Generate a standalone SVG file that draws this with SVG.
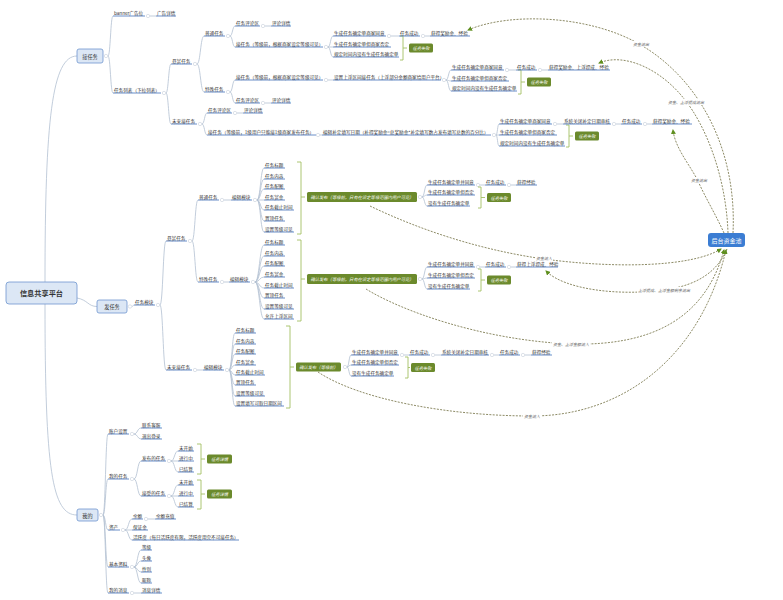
<svg xmlns="http://www.w3.org/2000/svg" width="783" height="600" viewBox="0 0 783 600">
<defs>
<style>
.t{font-family:"Noto Sans CJK SC","Noto Sans",sans-serif;font-size:4.6px;fill:#333;dominant-baseline:central}
.u{stroke:#5a82c2;stroke-width:0.9}
.c{fill:none;stroke:#b3c0d2;stroke-width:0.8}
.o{fill:#fff;stroke:#bcc6d4;stroke-width:0.5}
.gb{fill:#6b8a2c}
.gt{font-family:"Noto Sans CJK SC","Noto Sans",sans-serif;font-size:4.3px;fill:#fff;font-style:italic;text-anchor:middle;dominant-baseline:central}
.br{fill:none;stroke:#a3bf63;stroke-width:0.9}
.d{fill:none;stroke:#6e6c3e;stroke-width:0.8;stroke-dasharray:2 1.3;marker-end:url(#ah)}
.dl{font-family:"Noto Sans CJK SC","Noto Sans",sans-serif;font-size:4px;fill:#666;font-style:italic;text-anchor:middle;dominant-baseline:central}
.lb{fill:#fff}
.bx{fill:#dce7f5;stroke:#6e96cf;stroke-width:0.8}
.bt{font-family:"Noto Sans CJK SC","Noto Sans",sans-serif;font-size:5.2px;fill:#333;text-anchor:middle;dominant-baseline:central}
</style>
<marker id="ah" viewBox="0 0 10 10" refX="8" refY="5" markerWidth="5" markerHeight="5" orient="auto" markerUnits="userSpaceOnUse"><path d="M0 0L10 5L0 10z" fill="#5f8f1f"/></marker>
</defs>
<rect width="783" height="600" fill="#fff"/>

<g id="connectors">
<path class="c" d="M45 282C45 120 52 56 77 56"/>
<path class="c" d="M45 304C45 470 52 515 77 515"/>
<path class="c" d="M77 298C88 300 88 306.5 97 306.5"/>
<!-- 接任务 -->
<path class="c" d="M108 56C110.5 56 110.5 16 113 16"/>
<path class="c" d="M108 56C110.5 56 110.5 93 113 93"/>
<path class="c" d="M150 16H156"/>
<path class="c" d="M166 93C168.5 93 168.5 64 171 64"/>
<path class="c" d="M166 93C168.5 93 168.5 124 171 124"/>
<path class="c" d="M197 64C200.5 64 200.5 36 204 36"/>
<path class="c" d="M197 64C200.5 64 200.5 92 204 92"/>
<path class="c" d="M230 36C232.5 36 232.5 26 235 26"/>
<path class="c" d="M230 36C232.5 36 232.5 47 235 47"/>
<path class="c" d="M265 26H271"/>
<path class="c" d="M328 47C330.5 47 330.5 36 333 36"/>
<path class="c" d="M328 47H333"/>
<path class="c" d="M328 47C330.5 47 330.5 57 333 57"/>
<path class="c" d="M391 36H399"/>
<path class="c" d="M425 36H430"/>
<path class="c" d="M230 92C232.5 92 232.5 80 235 80"/>
<path class="c" d="M230 92C232.5 92 232.5 103 235 103"/>
<path class="c" d="M265 103H271"/>
<path class="c" d="M328 80H333"/>
<path class="c" d="M446 80C448.5 80 448.5 70 451 70"/>
<path class="c" d="M446 80C448.5 80 448.5 81 451 81"/>
<path class="c" d="M446 80C448.5 80 448.5 91 451 91"/>
<path class="c" d="M509 70H516"/>
<path class="c" d="M542 70H548"/>
<path class="c" d="M202 124C204.5 124 204.5 113 207 113"/>
<path class="c" d="M202 124C204.5 124 204.5 135 207 135"/>
<path class="c" d="M237 113H243"/>
<path class="c" d="M320 135H322"/>
<path class="c" d="M496 135C497.5 135 497.5 124 499 124"/>
<path class="c" d="M496 135H499"/>
<path class="c" d="M496 135C497.5 135 497.5 146 499 146"/>
<path class="c" d="M557 124H563"/>
<path class="c" d="M616 124H621"/>
<path class="c" d="M647 124H652"/>
<!-- 发任务 -->
<path class="c" d="M132 306.5C133 306.5 133 305 134 305"/>
<path class="c" d="M160 305C163 305 163 241 166 241"/>
<path class="c" d="M160 305C163 305 163 370 166 370"/>
<path class="c" d="M192 241C195 241 195 200 198 200"/>
<path class="c" d="M192 241C195 241 195 282 198 282"/>
<path class="c" d="M224 200H231"/>
<path class="c" d="M257 200C260.5 200 260.5 168 264 168"/>
<path class="c" d="M257 200C260.5 200 260.5 179 264 179"/>
<path class="c" d="M257 200C260.5 200 260.5 189 264 189"/>
<path class="c" d="M257 200H264"/>
<path class="c" d="M257 200C260.5 200 260.5 210 264 210"/>
<path class="c" d="M257 200C260.5 200 260.5 221 264 221"/>
<path class="c" d="M257 200C260.5 200 260.5 232 264 232"/>
<path class="c" d="M422 197C424.5 197 424.5 185 427 185"/>
<path class="c" d="M422 197C424.5 197 424.5 195 427 195"/>
<path class="c" d="M422 197C424.5 197 424.5 206 427 206"/>
<path class="c" d="M480 185H485"/>
<path class="c" d="M511 185H516"/>
<path class="c" d="M224 282H229"/>
<path class="c" d="M255 282C259.5 282 259.5 245 264 245"/>
<path class="c" d="M255 282C259.5 282 259.5 256 264 256"/>
<path class="c" d="M255 282C259.5 282 259.5 266 264 266"/>
<path class="c" d="M255 282C259.5 282 259.5 277 264 277"/>
<path class="c" d="M255 282C259.5 282 259.5 288 264 288"/>
<path class="c" d="M255 282C259.5 282 259.5 298 264 298"/>
<path class="c" d="M255 282C259.5 282 259.5 309 264 309"/>
<path class="c" d="M255 282C259.5 282 259.5 319 264 319"/>
<path class="c" d="M422 279C424.5 279 424.5 267 427 267"/>
<path class="c" d="M422 279C424.5 279 424.5 278 427 278"/>
<path class="c" d="M422 279C424.5 279 424.5 289 427 289"/>
<path class="c" d="M480 267H485"/>
<path class="c" d="M511 267H516"/>
<path class="c" d="M197 370H203"/>
<path class="c" d="M229 370C232 370 232 333 235 333"/>
<path class="c" d="M229 370C232 370 232 344 235 344"/>
<path class="c" d="M229 370C232 370 232 354 235 354"/>
<path class="c" d="M229 370C232 370 232 365 235 365"/>
<path class="c" d="M229 370C232 370 232 375 235 375"/>
<path class="c" d="M229 370C232 370 232 385 235 385"/>
<path class="c" d="M229 370C232 370 232 396 235 396"/>
<path class="c" d="M229 370C232 370 232 406 235 406"/>
<path class="c" d="M347 367C349 367 349 355 351 355"/>
<path class="c" d="M347 367C349 367 349 365 351 365"/>
<path class="c" d="M347 367C349 367 349 376 351 376"/>
<path class="c" d="M404 355H409"/>
<path class="c" d="M435 355H441"/>
<path class="c" d="M494 355H499"/>
<path class="c" d="M525 355H531"/>
<!-- 我的 -->
<path class="c" d="M103 515C105.5 515 105.5 434 108 434"/>
<path class="c" d="M103 515C105.5 515 105.5 479 108 479"/>
<path class="c" d="M103 515C105.5 515 105.5 530 108 530"/>
<path class="c" d="M103 515C105.5 515 105.5 567 108 567"/>
<path class="c" d="M103 515C105.5 515 105.5 593 108 593"/>
<path class="c" d="M134 434C137.5 434 137.5 428 141 428"/>
<path class="c" d="M134 434C137.5 434 137.5 439 141 439"/>
<path class="c" d="M134 479C137.5 479 137.5 461 141 461"/>
<path class="c" d="M134 479C137.5 479 137.5 496 141 496"/>
<path class="c" d="M171 461C174.5 461 174.5 451 178 451"/>
<path class="c" d="M171 461H178"/>
<path class="c" d="M171 461C174.5 461 174.5 472 178 472"/>
<path class="c" d="M171 496C174.5 496 174.5 485 178 485"/>
<path class="c" d="M171 496H178"/>
<path class="c" d="M171 496C174.5 496 174.5 507 178 507"/>
<path class="c" d="M125 530C128.5 530 128.5 519 132 519"/>
<path class="c" d="M125 530H132"/>
<path class="c" d="M125 530C128.5 530 128.5 540 132 540"/>
<path class="c" d="M148 519H155"/>
<path class="c" d="M134 567C137.5 567 137.5 550 141 550"/>
<path class="c" d="M134 567C137.5 567 137.5 561 141 561"/>
<path class="c" d="M134 567C137.5 567 137.5 572 141 572"/>
<path class="c" d="M134 567C137.5 567 137.5 583 141 583"/>
<path class="c" d="M134 593H141"/>
</g>

<g id="toggles">
<circle class="o" cx="106" cy="56" r="1.7"/><circle class="o" cx="148" cy="16" r="1.7"/><circle class="o" cx="164" cy="93" r="1.7"/>
<circle class="o" cx="195" cy="64" r="1.7"/><circle class="o" cx="200" cy="124" r="1.7"/><circle class="o" cx="228" cy="36" r="1.7"/>
<circle class="o" cx="228" cy="92" r="1.7"/><circle class="o" cx="263" cy="26" r="1.7"/><circle class="o" cx="326" cy="47" r="1.7"/>
<circle class="o" cx="389" cy="36" r="1.7"/><circle class="o" cx="423" cy="36" r="1.7"/><circle class="o" cx="263" cy="103" r="1.7"/>
<circle class="o" cx="326" cy="80" r="1.7"/><circle class="o" cx="444" cy="80" r="1.7"/><circle class="o" cx="507" cy="70" r="1.7"/>
<circle class="o" cx="540" cy="70" r="1.7"/><circle class="o" cx="235" cy="113" r="1.7"/><circle class="o" cx="318" cy="135" r="1.7"/>
<circle class="o" cx="494" cy="135" r="1.7"/><circle class="o" cx="555" cy="124" r="1.7"/><circle class="o" cx="614" cy="124" r="1.7"/>
<circle class="o" cx="645" cy="124" r="1.7"/>
<circle class="o" cx="130" cy="306.5" r="1.7"/><circle class="o" cx="158" cy="305" r="1.7"/><circle class="o" cx="190" cy="241" r="1.7"/>
<circle class="o" cx="195" cy="370" r="1.7"/><circle class="o" cx="222" cy="200" r="1.7"/><circle class="o" cx="222" cy="282" r="1.7"/>
<circle class="o" cx="255" cy="200" r="1.7"/><circle class="o" cx="253" cy="282" r="1.7"/><circle class="o" cx="227" cy="370" r="1.7"/>
<circle class="o" cx="420" cy="197" r="1.7"/><circle class="o" cx="478" cy="185" r="1.7"/><circle class="o" cx="509" cy="185" r="1.7"/>
<circle class="o" cx="420" cy="279" r="1.7"/><circle class="o" cx="478" cy="267" r="1.7"/><circle class="o" cx="509" cy="267" r="1.7"/>
<circle class="o" cx="345" cy="367" r="1.7"/><circle class="o" cx="402" cy="355" r="1.7"/><circle class="o" cx="433" cy="355" r="1.7"/>
<circle class="o" cx="492" cy="355" r="1.7"/><circle class="o" cx="523" cy="355" r="1.7"/>
<circle class="o" cx="101" cy="515" r="1.7"/><circle class="o" cx="132" cy="434" r="1.7"/><circle class="o" cx="132" cy="479" r="1.7"/>
<circle class="o" cx="169" cy="461" r="1.7"/><circle class="o" cx="169" cy="496" r="1.7"/><circle class="o" cx="123" cy="530" r="1.7"/>
<circle class="o" cx="146" cy="519" r="1.7"/><circle class="o" cx="132" cy="567" r="1.7"/><circle class="o" cx="132" cy="593" r="1.7"/>
</g>

<g id="brackets">
<path class="br" d="M400 36H403V60H400M403 48H407"/>
<path class="br" d="M518 70H521V94H518M521 82H525"/>
<path class="br" d="M566 125H569V147H566M569 136H573"/>
<path class="br" d="M297 162H301V234H297M301 197H305"/>
<path class="br" d="M297 240H301V321H297M301 279H305"/>
<path class="br" d="M286 326H290V408H286M290 367H294"/>
<path class="br" d="M478 187H481V208H478M481 197.5H485"/>
<path class="br" d="M478 269H481V291H478M481 280H485"/>
<path class="br" d="M405 357H408V378H405M408 367.5H410"/>
<path class="br" d="M197 444H201V474H197M201 459H205"/>
<path class="br" d="M197 480H201V509H197M201 494H205"/>
</g>

<g id="root"><rect class="bx" x="6" y="282" width="71" height="22" rx="3" stroke="#5b8cd0" stroke-width="1"/><text x="41.5" y="293" font-family="Noto Sans CJK SC, Noto Sans, sans-serif" font-size="7.2" font-weight="bold" fill="#333" text-anchor="middle" dominant-baseline="central">信息共享平台</text></g>
<g id="jie"><rect class="bx" x="77" y="49" width="26" height="14" rx="2"/><text class="bt" x="90" y="56">接任务</text></g>
<g id="fa"><rect class="bx" x="97" y="300" width="30" height="13" rx="2"/><text class="bt" x="112" y="306.5">发任务</text></g>
<g id="wode"><rect class="bx" x="77" y="509" width="21" height="12" rx="2"/><text class="bt" x="87.5" y="515">我的</text></g>
<g id="pool"><rect x="708" y="233" width="37" height="14" rx="3" fill="#3b7dd3"/><text x="726.5" y="240" font-family="Noto Sans CJK SC, Noto Sans, sans-serif" font-size="6" fill="#fff" text-anchor="middle" dominant-baseline="central">后台资金池</text></g>

<!-- 接任务 nodes -->
<g id="j1"><text class="t" x="114" y="13">banner广告位</text><line class="u" x1="113" y1="16" x2="145" y2="16"/></g>
<g id="j2"><text class="t" x="157" y="13">广告详情</text><line class="u" x1="156" y1="16" x2="176" y2="16"/></g>
<g id="j3"><text class="t" x="114" y="90">任务列表（下拉列表）</text><line class="u" x1="113" y1="93" x2="161" y2="93"/></g>
<g id="j4"><text class="t" x="172" y="61">悬赏任务</text><line class="u" x1="171" y1="64" x2="192" y2="64"/></g>
<g id="j5"><text class="t" x="172" y="121">未来接任务</text><line class="u" x1="171" y1="124" x2="197" y2="124"/></g>
<g id="j6"><text class="t" x="205" y="33">普通任务</text><line class="u" x1="204" y1="36" x2="225" y2="36"/></g>
<g id="j7"><text class="t" x="205" y="89">特殊任务</text><line class="u" x1="204" y1="92" x2="225" y2="92"/></g>
<g id="j8"><text class="t" x="236" y="23">任务评论区</text><line class="u" x1="235" y1="26" x2="260" y2="26"/></g>
<g id="j9"><text class="t" x="272" y="23">评论详情</text><line class="u" x1="271" y1="26" x2="291" y2="26"/></g>
<g id="j10"><text class="t" x="236" y="44">接任务（等级前，根据商家设定等级可见）</text><line class="u" x1="235" y1="47" x2="323" y2="47"/></g>
<g id="j11"><text class="t" x="334" y="33">生成任务确定单商家同意</text><line class="u" x1="333" y1="36" x2="386" y2="36"/></g>
<g id="j12"><text class="t" x="400" y="33">任务成功</text><line class="u" x1="399" y1="36" x2="420" y2="36"/></g>
<g id="j13"><text class="t" x="431" y="33">获得奖励金、经验</text><line class="u" x1="430" y1="36" x2="470" y2="36"/></g>
<g id="j14"><text class="t" x="334" y="44">生成任务确定单但商家否定</text><line class="u" x1="333" y1="47" x2="391" y2="47"/></g>
<g id="j15"><text class="t" x="334" y="54">规定时间内没有生成任务确定单</text><line class="u" x1="333" y1="57" x2="399" y2="57"/></g>
<g id="j16"><rect class="gb" x="409" y="43.5" width="24" height="9" rx="1.5"/><text class="gt" x="421" y="48">任务失败</text></g>
<g id="j17"><text class="t" x="236" y="77">接任务（等级前，根据商家设定等级可见）</text><line class="u" x1="235" y1="80" x2="323" y2="80"/></g>
<g id="j18"><text class="t" x="236" y="100">任务评论区</text><line class="u" x1="235" y1="103" x2="260" y2="103"/></g>
<g id="j19"><text class="t" x="272" y="100">评论详情</text><line class="u" x1="271" y1="103" x2="291" y2="103"/></g>
<g id="j20"><text class="t" x="334" y="77">设置上浮区间接任务（上浮部分金额商家给用户平台）</text><line class="u" x1="333" y1="80" x2="441" y2="80"/></g>
<g id="j21"><text class="t" x="452" y="67">生成任务确定单商家同意</text><line class="u" x1="451" y1="70" x2="504" y2="70"/></g>
<g id="j22"><text class="t" x="517" y="67">任务成功</text><line class="u" x1="516" y1="70" x2="537" y2="70"/></g>
<g id="j23"><text class="t" x="549" y="67">获得奖励金、上浮提成、经验</text><line class="u" x1="548" y1="70" x2="610" y2="70"/></g>
<g id="j24"><text class="t" x="452" y="78">生成任务确定单但商家否定</text><line class="u" x1="451" y1="81" x2="509" y2="81"/></g>
<g id="j25"><text class="t" x="452" y="88">规定时间内没有生成任务确定单</text><line class="u" x1="451" y1="91" x2="517" y2="91"/></g>
<g id="j26"><rect class="gb" x="527" y="77.5" width="24" height="9" rx="1.5"/><text class="gt" x="539" y="82">任务失败</text></g>
<g id="j27"><text class="t" x="208" y="110">任务评论区</text><line class="u" x1="207" y1="113" x2="232" y2="113"/></g>
<g id="j28"><text class="t" x="244" y="110">评论详情</text><line class="u" x1="243" y1="113" x2="263" y2="113"/></g>
<g id="j29"><text class="t" x="208" y="132">接任务（等级前，1级用户只能接1级商家发布任务）</text><line class="u" x1="207" y1="135" x2="316" y2="135"/></g>
<g id="j30"><text class="t" x="323" y="132">编辑补定填写日期（补得奖励金=总奖励金*补定填写数占发布填写总数的百分比）</text><line class="u" x1="322" y1="135" x2="491" y2="135"/></g>
<g id="j31"><text class="t" x="500" y="121">生成任务确定单商家同意</text><line class="u" x1="499" y1="124" x2="552" y2="124"/></g>
<g id="j32"><text class="t" x="564" y="121">系统关闭补定日期审核</text><line class="u" x1="563" y1="124" x2="611" y2="124"/></g>
<g id="j33"><text class="t" x="622" y="121">任务成功</text><line class="u" x1="621" y1="124" x2="642" y2="124"/></g>
<g id="j34"><text class="t" x="653" y="121">获得奖励金、经验</text><line class="u" x1="652" y1="124" x2="692" y2="124"/></g>
<g id="j35"><text class="t" x="500" y="132">生成任务确定单但商家否定</text><line class="u" x1="499" y1="135" x2="557" y2="135"/></g>
<g id="j36"><text class="t" x="500" y="143">规定时间内没有生成任务确定单</text><line class="u" x1="499" y1="146" x2="565" y2="146"/></g>
<g id="j37"><rect class="gb" x="575" y="131.5" width="24" height="9" rx="1.5"/><text class="gt" x="587" y="136">任务失败</text></g>

<!-- 发任务 nodes -->
<g id="f1"><text class="t" x="135" y="302">任务模块</text><line class="u" x1="134" y1="305" x2="155" y2="305"/></g>
<g id="f2"><text class="t" x="167" y="238">悬赏任务</text><line class="u" x1="166" y1="241" x2="187" y2="241"/></g>
<g id="f3"><text class="t" x="167" y="367">未来接任务</text><line class="u" x1="166" y1="370" x2="192" y2="370"/></g>
<g id="f4"><text class="t" x="199" y="197">普通任务</text><line class="u" x1="198" y1="200" x2="219" y2="200"/></g>
<g id="f5"><text class="t" x="199" y="279">特殊任务</text><line class="u" x1="198" y1="282" x2="219" y2="282"/></g>
<g id="f6"><text class="t" x="232" y="197">编辑模块</text><line class="u" x1="231" y1="200" x2="252" y2="200"/></g>
<g id="f7"><text class="t" x="265" y="165">任务标题</text><line class="u" x1="264" y1="168" x2="285" y2="168"/></g>
<g id="f8"><text class="t" x="265" y="176">任务内容</text><line class="u" x1="264" y1="179" x2="285" y2="179"/></g>
<g id="f9"><text class="t" x="265" y="186">任务配图</text><line class="u" x1="264" y1="189" x2="285" y2="189"/></g>
<g id="f10"><text class="t" x="265" y="197">任务赏金</text><line class="u" x1="264" y1="200" x2="285" y2="200"/></g>
<g id="f11"><text class="t" x="265" y="207">任务截止时间</text><line class="u" x1="264" y1="210" x2="294" y2="210"/></g>
<g id="f12"><text class="t" x="265" y="218">置顶任务</text><line class="u" x1="264" y1="221" x2="285" y2="221"/></g>
<g id="f13"><text class="t" x="265" y="229">设置等级可见</text><line class="u" x1="264" y1="232" x2="294" y2="232"/></g>
<g id="f14"><rect class="gb" x="307" y="192" width="110" height="10" rx="1.5"/><text class="gt" x="362" y="197">确认发布（等级前，只有在设定等级范围内用户可见）</text></g>
<g id="f15"><text class="t" x="428" y="182">生成任务确定单并同意</text><line class="u" x1="427" y1="185" x2="475" y2="185"/></g>
<g id="f16"><text class="t" x="486" y="182">任务成功</text><line class="u" x1="485" y1="185" x2="506" y2="185"/></g>
<g id="f17"><text class="t" x="517" y="182">获得经验</text><line class="u" x1="516" y1="185" x2="537" y2="185"/></g>
<g id="f18"><text class="t" x="428" y="192">生成任务确定单但否定</text><line class="u" x1="427" y1="195" x2="475" y2="195"/></g>
<g id="f19"><text class="t" x="428" y="203">没有生成任务确定单</text><line class="u" x1="427" y1="206" x2="470" y2="206"/></g>
<g id="f20"><rect class="gb" x="487" y="193" width="24" height="9" rx="1.5"/><text class="gt" x="499" y="197.5">任务失败</text></g>
<g id="f21"><text class="t" x="230" y="279">编辑模块</text><line class="u" x1="229" y1="282" x2="250" y2="282"/></g>
<g id="f22"><text class="t" x="265" y="242">任务标题</text><line class="u" x1="264" y1="245" x2="285" y2="245"/></g>
<g id="f23"><text class="t" x="265" y="253">任务内容</text><line class="u" x1="264" y1="256" x2="285" y2="256"/></g>
<g id="f24"><text class="t" x="265" y="263">任务配图</text><line class="u" x1="264" y1="266" x2="285" y2="266"/></g>
<g id="f25"><text class="t" x="265" y="274">任务赏金</text><line class="u" x1="264" y1="277" x2="285" y2="277"/></g>
<g id="f26"><text class="t" x="265" y="285">任务截止时间</text><line class="u" x1="264" y1="288" x2="294" y2="288"/></g>
<g id="f27"><text class="t" x="265" y="295">置顶任务</text><line class="u" x1="264" y1="298" x2="285" y2="298"/></g>
<g id="f28"><text class="t" x="265" y="306">设置等级可见</text><line class="u" x1="264" y1="309" x2="294" y2="309"/></g>
<g id="f29"><text class="t" x="265" y="316">允许上浮区间</text><line class="u" x1="264" y1="319" x2="294" y2="319"/></g>
<g id="f30"><rect class="gb" x="307" y="274" width="110" height="10" rx="1.5"/><text class="gt" x="362" y="279">确认发布（等级前，只有在设定等级范围内用户可见）</text></g>
<g id="f31"><text class="t" x="428" y="264">生成任务确定单并同意</text><line class="u" x1="427" y1="267" x2="475" y2="267"/></g>
<g id="f32"><text class="t" x="486" y="264">任务成功</text><line class="u" x1="485" y1="267" x2="506" y2="267"/></g>
<g id="f33"><text class="t" x="517" y="264">获得上浮提成、经验</text><line class="u" x1="516" y1="267" x2="558" y2="267"/></g>
<g id="f34"><text class="t" x="428" y="275">生成任务确定单但否定</text><line class="u" x1="427" y1="278" x2="475" y2="278"/></g>
<g id="f35"><text class="t" x="428" y="286">没有生成任务确定单</text><line class="u" x1="427" y1="289" x2="470" y2="289"/></g>
<g id="f36"><rect class="gb" x="487" y="275.5" width="24" height="9" rx="1.5"/><text class="gt" x="499" y="280">任务失败</text></g>
<g id="f37"><text class="t" x="204" y="367">编辑模块</text><line class="u" x1="203" y1="370" x2="224" y2="370"/></g>
<g id="f38"><text class="t" x="236" y="330">任务标题</text><line class="u" x1="235" y1="333" x2="256" y2="333"/></g>
<g id="f39"><text class="t" x="236" y="341">任务内容</text><line class="u" x1="235" y1="344" x2="256" y2="344"/></g>
<g id="f40"><text class="t" x="236" y="351">任务配图</text><line class="u" x1="235" y1="354" x2="256" y2="354"/></g>
<g id="f41"><text class="t" x="236" y="362">任务赏金</text><line class="u" x1="235" y1="365" x2="256" y2="365"/></g>
<g id="f42"><text class="t" x="236" y="372">任务截止时间</text><line class="u" x1="235" y1="375" x2="265" y2="375"/></g>
<g id="f43"><text class="t" x="236" y="382">置顶任务</text><line class="u" x1="235" y1="385" x2="256" y2="385"/></g>
<g id="f44"><text class="t" x="236" y="393">设置等级可见</text><line class="u" x1="235" y1="396" x2="265" y2="396"/></g>
<g id="f45"><text class="t" x="236" y="403">设置填写可取日期区间</text><line class="u" x1="235" y1="406" x2="284" y2="406"/></g>
<g id="f46"><rect class="gb" x="296" y="362.5" width="45" height="9" rx="1.5"/><text class="gt" x="318.5" y="367">确认发布（等级前）</text></g>
<g id="f47"><text class="t" x="352" y="352">生成任务确定单并同意</text><line class="u" x1="351" y1="355" x2="399" y2="355"/></g>
<g id="f48"><text class="t" x="410" y="352">任务成功</text><line class="u" x1="409" y1="355" x2="430" y2="355"/></g>
<g id="f49"><text class="t" x="442" y="352">系统关闭补定日期审核</text><line class="u" x1="441" y1="355" x2="489" y2="355"/></g>
<g id="f50"><text class="t" x="500" y="352">任务成功</text><line class="u" x1="499" y1="355" x2="520" y2="355"/></g>
<g id="f51"><text class="t" x="532" y="352">获得经验</text><line class="u" x1="531" y1="355" x2="552" y2="355"/></g>
<g id="f52"><text class="t" x="352" y="362">生成任务确定单但否定</text><line class="u" x1="351" y1="365" x2="399" y2="365"/></g>
<g id="f53"><text class="t" x="352" y="373">没有生成任务确定单</text><line class="u" x1="351" y1="376" x2="394" y2="376"/></g>
<g id="f54"><rect class="gb" x="411" y="363" width="24" height="9" rx="1.5"/><text class="gt" x="423" y="367.5">任务失败</text></g>

<!-- 我的 nodes -->
<g id="w1"><text class="t" x="109" y="431">账户设置</text><line class="u" x1="108" y1="434" x2="129" y2="434"/></g>
<g id="w2"><text class="t" x="142" y="425">联系客服</text><line class="u" x1="141" y1="428" x2="162" y2="428"/></g>
<g id="w3"><text class="t" x="142" y="436">退出登录</text><line class="u" x1="141" y1="439" x2="162" y2="439"/></g>
<g id="w4"><text class="t" x="109" y="476">我的任务</text><line class="u" x1="108" y1="479" x2="129" y2="479"/></g>
<g id="w5"><text class="t" x="142" y="458">发布的任务</text><line class="u" x1="141" y1="461" x2="166" y2="461"/></g>
<g id="w6"><text class="t" x="179" y="448">未开始</text><line class="u" x1="178" y1="451" x2="194" y2="451"/></g>
<g id="w7"><text class="t" x="179" y="458">进行中</text><line class="u" x1="178" y1="461" x2="194" y2="461"/></g>
<g id="w8"><text class="t" x="179" y="469">已结算</text><line class="u" x1="178" y1="472" x2="194" y2="472"/></g>
<g id="w9"><rect class="gb" x="207" y="454.5" width="25" height="9" rx="1.5"/><text class="gt" x="219.5" y="459">任务详情</text></g>
<g id="w10"><text class="t" x="142" y="493">接受的任务</text><line class="u" x1="141" y1="496" x2="166" y2="496"/></g>
<g id="w11"><text class="t" x="179" y="482">未开始</text><line class="u" x1="178" y1="485" x2="194" y2="485"/></g>
<g id="w12"><text class="t" x="179" y="493">进行中</text><line class="u" x1="178" y1="496" x2="194" y2="496"/></g>
<g id="w13"><text class="t" x="179" y="504">已结算</text><line class="u" x1="178" y1="507" x2="194" y2="507"/></g>
<g id="w14"><rect class="gb" x="207" y="489.5" width="25" height="9" rx="1.5"/><text class="gt" x="219.5" y="494">任务详情</text></g>
<g id="w15"><text class="t" x="109" y="527">资产</text><line class="u" x1="108" y1="530" x2="120" y2="530"/></g>
<g id="w16"><text class="t" x="133" y="516">余额</text><line class="u" x1="132" y1="519" x2="143" y2="519"/></g>
<g id="w17"><text class="t" x="156" y="516">余额充值</text><line class="u" x1="155" y1="519" x2="176" y2="519"/></g>
<g id="w18"><text class="t" x="133" y="527">保证金</text><line class="u" x1="132" y1="530" x2="148" y2="530"/></g>
<g id="w19"><text class="t" x="133" y="537">活跃度（每日活跃度有限，活跃度用完不可接任务）</text><line class="u" x1="132" y1="540" x2="239" y2="540"/></g>
<g id="w20"><text class="t" x="109" y="564">基本资料</text><line class="u" x1="108" y1="567" x2="129" y2="567"/></g>
<g id="w21"><text class="t" x="142" y="547">等级</text><line class="u" x1="141" y1="550" x2="152" y2="550"/></g>
<g id="w22"><text class="t" x="142" y="558">头像</text><line class="u" x1="141" y1="561" x2="152" y2="561"/></g>
<g id="w23"><text class="t" x="142" y="569">性别</text><line class="u" x1="141" y1="572" x2="152" y2="572"/></g>
<g id="w24"><text class="t" x="142" y="580">昵称</text><line class="u" x1="141" y1="583" x2="152" y2="583"/></g>
<g id="w25"><text class="t" x="109" y="590">我的消息</text><line class="u" x1="108" y1="593" x2="129" y2="593"/></g>
<g id="w26"><text class="t" x="142" y="590">消息详情</text><line class="u" x1="141" y1="593" x2="162" y2="593"/></g>

<g id="relations">
<path class="d" d="M733 233C737 150 700 80 641 45C590 15 510 12 468 30"/>
<path class="d" d="M728 233C726 175 705 125 685 100C662 70 625 52 599 63"/>
<path class="d" d="M724 233C716 215 705 197 698 181C690 165 675 148 673 130"/>
<path class="d" d="M370 206C420 230 480 250 544 259C610 268 690 268 721 249"/>
<path class="d" d="M727 249C718 270 700 285 664 290C620 296 565 290 546 271"/>
<path class="d" d="M366 289C400 310 480 340 571 344C650 346 705 320 724 250"/>
<path class="d" d="M318 372C360 400 450 416 532 416C620 416 700 360 726 250"/>
<rect class="lb" x="632" y="41" width="18" height="6"/><text class="dl" x="641" y="44">资金流出</text>
<rect class="lb" x="667" y="99" width="38" height="6"/><text class="dl" x="686" y="102">资金、上浮提成流出</text>
<rect class="lb" x="690" y="177" width="18" height="6"/><text class="dl" x="699" y="180">资金流出</text>
<rect class="lb" x="535" y="255" width="18" height="6"/><text class="dl" x="544" y="258">资金流入</text>
<rect class="lb" x="637" y="287" width="54" height="6"/><text class="dl" x="664" y="290">上浮提成、上浮金额剩余流出</text>
<rect class="lb" x="552" y="341" width="38" height="6"/><text class="dl" x="571" y="344">资金、上浮金额流入</text>
<rect class="lb" x="523" y="413" width="18" height="6"/><text class="dl" x="532" y="416">资金流入</text>
</g>
</svg>
